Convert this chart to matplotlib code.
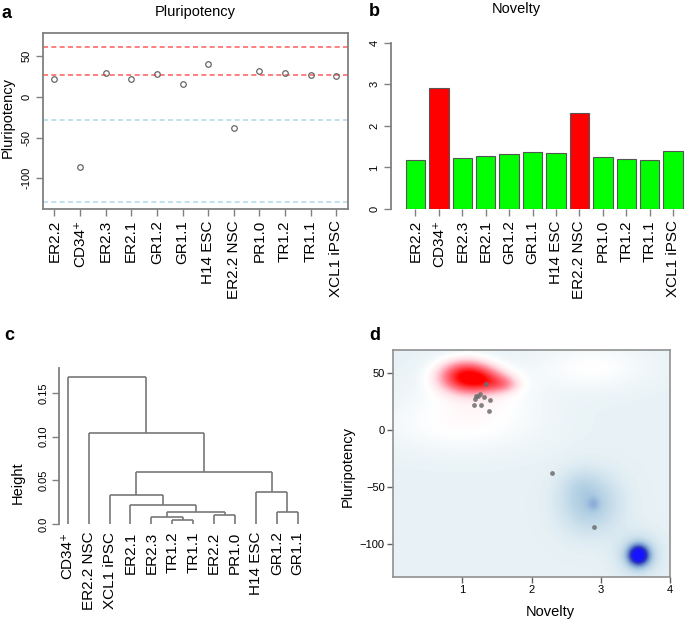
import numpy as np
import matplotlib.pyplot as plt
from matplotlib.colors import LinearSegmentedColormap

plt.rcParams['font.family'] = ['Liberation Sans', 'DejaVu Sans']

# samples in the order of panels a and b
samples = ['ER2.2', 'CD34\u207a', 'ER2.3', 'ER2.1', 'GR1.2', 'GR1.1',
           'H14 ESC', 'ER2.2 NSC', 'PR1.0', 'TR1.2', 'TR1.1', 'XCL1 iPSC']
pluripotency = [22, -85.7, 30, 22, 28.6, 16.3, 40.5, -38.4, 31.5, 30, 27, 25.8]
novelty = [1.17, 2.90, 1.23, 1.27, 1.32, 1.38, 1.35, 2.30, 1.26, 1.20, 1.19, 1.40]
bar_colors = ['#00ff00', '#ff0000', '#00ff00', '#00ff00', '#00ff00', '#00ff00',
              '#00ff00', '#ff0000', '#00ff00', '#00ff00', '#00ff00', '#00ff00']
red_lines = [61.5, 27]
blue_lines = [-28, -129]

# dendrogram (panel c): leaf order and merges (left, right, height)
leaves = ['CD34\u207a', 'ER2.2 NSC', 'XCL1 iPSC', 'ER2.1', 'ER2.3', 'TR1.2',
          'TR1.1', 'ER2.2', 'PR1.0', 'H14 ESC', 'GR1.2', 'GR1.1']
merges = [
    ('TR1.2', 'TR1.1', 0.0049),
    ('ER2.3', 0, 0.0087),
    ('ER2.2', 'PR1.0', 0.0106),
    ('GR1.2', 'GR1.1', 0.0137),
    (1, 2, 0.0144),
    ('ER2.1', 4, 0.0217),
    ('XCL1 iPSC', 5, 0.0335),
    ('H14 ESC', 3, 0.0366),
    (6, 7, 0.060),
    ('ER2.2 NSC', 8, 0.104),
    ('CD34\u207a', 9, 0.168),
]

# density surface (panel d): x, y, sd_x, sd_y, weight
density_base = -0.1
density_parts = [
    (2.9, 55, 0.55, 14, 0.1),
    (1.0, 5, 0.8, 18, 0.1),
    (1.25, 35, 0.55, 17, 0.1),
    (1.05, 47, 0.25, 9, 1.0),
    (1.35, 43, 0.22, 7, 0.45),
    (1.6, 40, 0.15, 5, 0.25),
    (2.85, -65, 0.3, 18, -0.2),
    (2.7, -48, 0.2, 10, -0.05),
    (2.9, -65, 0.06, 4, -0.1),
    (3.55, -110, 0.1, 6, -0.95),
    (3.55, -110, 0.22, 13, -0.15),
]

W, H = 685, 620
fig = plt.figure(figsize=(W / 100, H / 100), dpi=100)


def box(l, t, r, b):
    return [l / W, 1 - b / H, (r - l) / W, (b - t) / H]


def ftext(x, y, s, **kw):
    fig.text(x / W, 1 - y / H, s, ha='center', va='center', **kw)


grey = '#808080'

# ---- a: pluripotency scores
ax = fig.add_axes(box(43, 32.7, 347.7, 209))
x = np.arange(1, len(samples) + 1)
for v in red_lines:
    ax.axhline(v, color='#ff6a6a', ls=(0, (3, 2)), lw=1.2)
for v in blue_lines:
    ax.axhline(v, color='#b5dcec', ls=(0, (3, 2)), lw=1.2)
ax.plot(x, pluripotency, 'o', mfc='none', mec='#666666', ms=4, mew=0.9)
ax.set_xlim(0.56, 12.44)
ax.set_ylim(-138, 79)
ax.set_xticks(x)
ax.set_xticklabels(samples, rotation=90, fontsize=11)
ax.set_yticks([-100, -50, 0, 50])
ax.set_yticklabels(['-100', '-50', '0', '50'], rotation=90, va='center', fontsize=8)
ax.tick_params(direction='out', length=5, color=grey, width=1, pad=3)
for s in ax.spines.values():
    s.set_color(grey)
    s.set_linewidth(1.3)
ftext(8, 118, 'Pluripotency', rotation=90, fontsize=10.5)
ftext(195, 12, 'Pluripotency', fontsize=10.5)
ftext(7, 13, 'a', fontsize=13, fontweight='bold')

# ---- b: novelty bars
ax = fig.add_axes(box(390.7, 42.7, 694, 209))
pos = 0.7 + 1.2 * np.arange(len(samples))
ax.bar(pos, novelty, width=1, color=bar_colors, edgecolor='#555555', lw=0.8)
ax.set_xlim(-0.568, 14.968)
ax.set_ylim(0, 4)
ax.set_xticks(pos)
ax.set_xticklabels(samples, rotation=90, fontsize=11)
ax.set_yticks([0, 1, 2, 3, 4])
ax.set_yticklabels(['0', '1', '2', '3', '4'], rotation=90, va='center', fontsize=8)
ax.tick_params(direction='out', length=5, color=grey, width=1, pad=3)
for k in ['top', 'right', 'bottom']:
    ax.spines[k].set_visible(False)
ax.spines['left'].set_color(grey)
ax.spines['left'].set_linewidth(1.3)
ax.spines['left'].set_bounds(0, 4)
ftext(516.7, 8.5, 'Novelty', fontsize=10.5)
ftext(374.5, 12, 'b', fontsize=13, fontweight='bold')

# ---- c: hierarchical clustering
ax = fig.add_axes(box(59.3, 368.3, 306.9, 530.2))
xpos = {name: i + 1 for i, name in enumerate(leaves)}
node = []
for a, b, h in merges:
    xs, hs = [], []
    for c in (a, b):
        if isinstance(c, str):
            xs.append(xpos[c]); hs.append(0)
        else:
            xs.append(node[c][0]); hs.append(node[c][1])
    for xc, hc in zip(xs, hs):
        ax.plot([xc, xc], [hc, h], color='#787878', lw=1.2, solid_capstyle='butt')
    ax.plot(xs, [h, h], color='#787878', lw=1.2, solid_capstyle='butt')
    node.append(((xs[0] + xs[1]) / 2, h))
ax.set_xlim(0.598, 12.44)
ax.set_ylim(-0.0067, 0.178)
ax.set_xticks(np.arange(1, 13))
ax.set_xticklabels(leaves, rotation=90, fontsize=11)
ax.tick_params(axis='x', length=0, pad=1)
ax.set_yticks([0, 0.05, 0.10, 0.15])
ax.set_yticklabels(['0.0', '0.05', '0.10', '0.15'], rotation=90, va='center', fontsize=8)
ax.tick_params(axis='y', direction='out', length=5, color=grey, width=1, pad=3)
for k in ['top', 'right', 'bottom']:
    ax.spines[k].set_visible(False)
ax.spines['left'].set_color(grey)
ax.spines['left'].set_linewidth(1.3)
ax.spines['left'].set_bounds(0, 0.178)
ftext(18, 483, 'Height', rotation=90, fontsize=10.5)
ftext(9, 335, 'c', fontsize=13, fontweight='bold')

# ---- d: density of novelty vs pluripotency
ax = fig.add_axes(box(393, 350, 670, 576.7))
gx, gy = np.meshgrid(np.linspace(0, 4, 400), np.linspace(-129, 70, 400))
field = np.full_like(gx, density_base)
for cx, cy, sx, sy, w in density_parts:
    field += w * np.exp(-0.5 * (((gx - cx) / sx) ** 2 + ((gy - cy) / sy) ** 2))
cmap = LinearSegmentedColormap.from_list('nov', [
    (0.0, '#1414ff'), (0.075, '#1e1ee6'), (0.15, '#3040b0'), (0.25, '#6f90d0'),
    (0.35, '#aecde2'), (0.45, '#e8f2f6'), (0.5, '#ffffff'), (0.575, '#ffe0e6'),
    (0.725, '#ff8090'), (1.0, '#ff0000')])
ax.imshow(field, extent=(0, 4, -129, 70), origin='lower', aspect='auto',
          cmap=cmap, vmin=-1, vmax=1, interpolation='bilinear')
ax.scatter(novelty, pluripotency, s=12, color='#6e6e6e', alpha=0.85, lw=0)
ax.set_xlim(0, 4)
ax.set_ylim(-129, 70)
ax.set_xticks([1, 2, 3, 4])
ax.set_yticks([-100, -50, 0, 50])
ax.tick_params(direction='out', length=4, color='#606060', width=1, labelsize=8, pad=2)
for s in ax.spines.values():
    s.set_color('#909090')
    s.set_linewidth(1.2)
ftext(348, 466.7, 'Pluripotency', rotation=90, fontsize=10.5)
ftext(550, 611.7, 'Novelty', fontsize=10.5)
ftext(374.5, 335, 'd', fontsize=13, fontweight='bold')

fig.savefig('out.png', dpi=100)
